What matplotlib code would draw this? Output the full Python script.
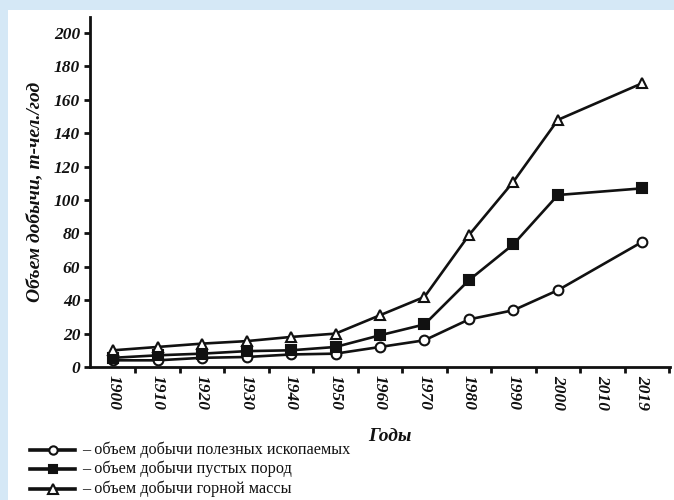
import matplotlib
matplotlib.use("Agg")
import matplotlib.pyplot as plt
from matplotlib.patches import Rectangle
from matplotlib.lines import Line2D

# Mining output by year (million man-tonnes per year)
years = [1900, 1910, 1920, 1930, 1940, 1950, 1960, 1970, 1980, 1990, 2000, 2019]
minerals = [4, 4, 5.5, 6, 7.5, 8, 12, 16, 28.5, 34, 46, 75]
waste_rock = [5.5, 7, 8, 9.5, 10, 12, 19, 25.5, 52, 73.5, 103, 107]
rock_mass = [10, 12, 14, 15.5, 18, 20, 31, 42, 79, 111, 148, 170]

tick_years = [1900, 1910, 1920, 1930, 1940, 1950, 1960, 1970, 1980, 1990, 2000, 2010, 2019]
tick_labels = [str(y) for y in tick_years]
y_ticks = list(range(0, 201, 20))

series_labels = [
    "– объем добычи полезных ископаемых",
    "– объем добычи пустых пород",
    "– объем добычи горной массы",
]
series_styles = [
    dict(marker="o", markerfacecolor="white", markersize=7),
    dict(marker="s", markerfacecolor="#111111", markersize=6.5),
    dict(marker="^", markerfacecolor="white", markersize=7.5),
]

ink = "#111111"
serif = "Liberation Serif"

W, H = 674, 500
fig = plt.figure(figsize=(W / 100, H / 100), dpi=100, facecolor="#d5e8f6")
fig.patches.append(Rectangle((8 / W, 0), 1 - 8 / W, 490 / H, transform=fig.transFigure,
                             facecolor="white", edgecolor="none", zorder=-10))

ax = fig.add_axes([90 / W, 133 / H, 580 / W, 350 / H])
ax.set_facecolor("none")
ax.set_zorder(1)

for vals, style in zip([minerals, waste_rock, rock_mass], series_styles):
    ax.plot(years, vals, color=ink, lw=1.9, markeredgewidth=1.5,
            markeredgecolor=ink, clip_on=False, zorder=3, **style)

ax.set_xlim(1894.8, 2025.2)
ax.set_ylim(0, 209.6)

for side in ["top", "right"]:
    ax.spines[side].set_visible(False)
for side in ["left", "bottom"]:
    ax.spines[side].set_linewidth(2.0)
    ax.spines[side].set_color(ink)

# major x ticks sit between the year labels; labels are carried by minor ticks
ax.set_xticks([y + 5 for y in range(1900, 2021, 10)])
ax.set_xticklabels([])
ax.tick_params(axis="x", which="major", direction="out", length=4, width=2, color=ink)
ax.set_xticks(tick_years, minor=True)
ax.set_xticklabels(tick_labels, minor=True, rotation=-90, fontfamily=serif,
                   fontweight="bold", fontstyle="italic", fontsize=12.5, color=ink)
ax.tick_params(axis="x", which="minor", length=0, pad=6)

ax.set_yticks(y_ticks)
ax.set_yticklabels([str(v) for v in y_ticks], fontfamily=serif, fontweight="bold",
                   fontstyle="italic", fontsize=12.5, color=ink)
ax.tick_params(axis="y", direction="out", length=4, width=2, color=ink, pad=3)

ax.set_ylabel("Объем добычи, т-чел./год", fontfamily=serif, fontweight="bold",
              fontstyle="italic", fontsize=14, color=ink, labelpad=8)
ax.set_xlabel("Годы", fontfamily=serif, fontweight="bold", fontstyle="italic",
              fontsize=14, color=ink, labelpad=6)
ax.xaxis.set_label_coords((390 - 90) / 580, -(428 - 367) / 350)

# legend below the plot
rows_y = [450, 469, 489]
for ry, label, style in zip(rows_y, series_labels, series_styles):
    yy = 1 - ry / H
    st = dict(style)
    st["markersize"] = st["markersize"] - 1
    fig.add_artist(Line2D([30 / W, 52.5 / W, 75 / W], [yy, yy, yy], color=ink, lw=2.6,
                          markevery=[1], markeredgewidth=1.5,
                          markeredgecolor=ink, **st))
    fig.text(82 / W, yy, label, fontfamily=serif, fontsize=11.7, color=ink,
             va="center", ha="left")

fig.savefig("out.png", dpi=100, facecolor=fig.get_facecolor())
